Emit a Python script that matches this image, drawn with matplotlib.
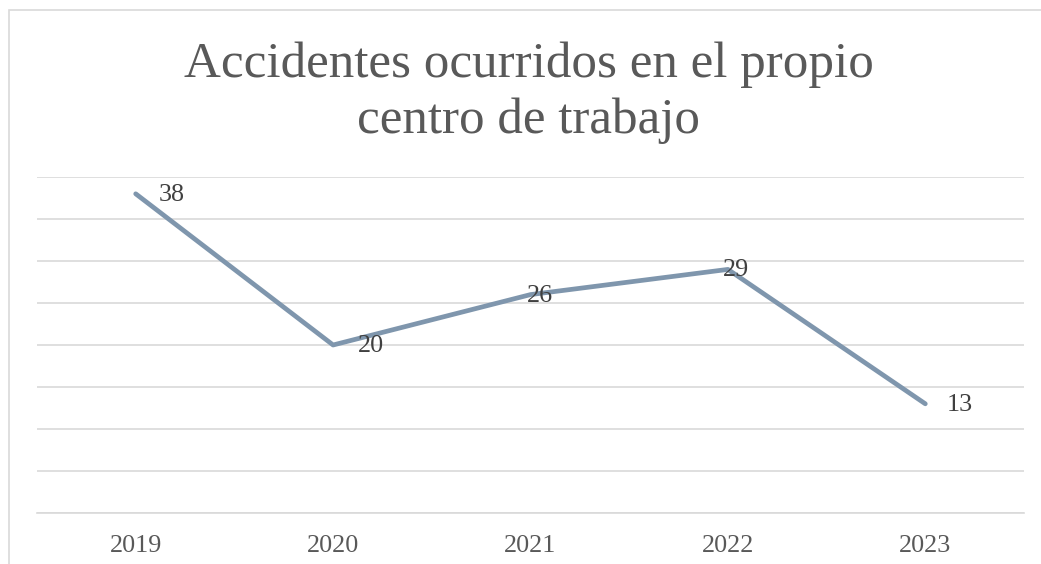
import matplotlib
matplotlib.use("Agg")
import matplotlib.pyplot as plt
from matplotlib.patches import Rectangle

years = ["2019", "2020", "2021", "2022", "2023"]
accidents = [38, 20, 26, 29, 13]
title_lines = ["Accidentes ocurridos en el propio", "centro de trabajo"]

# label x-offsets in pixels (style only)
label_dx = [23, 25, -4, -5, 21]

W, H = 1041, 564
dpi = 100
fig = plt.figure(figsize=(W / dpi, H / dpi), dpi=dpi)
fig.patch.set_facecolor("white")

font = "Liberation Serif"

# chart border (left and top visible)
fig.add_artist(Rectangle((8.5 / W, -0.1), 1.2, (H - 10.5) / H + 0.1,
                         transform=fig.transFigure, fill=False,
                         edgecolor="#d9d9d9", linewidth=1.2))

left, right = 37, 1024
top, bottom = 177, 513
ax = fig.add_axes([left / W, (H - bottom) / H, (right - left) / W, (bottom - top) / H])
ax.set_facecolor("none")

x = list(range(len(years)))
ax.plot(x, accidents, color="#7f96ad", linewidth=3.4, solid_capstyle="round",
        solid_joinstyle="round", zorder=3)

ax.set_xlim(-0.5, len(years) - 0.5)
ax.set_ylim(0, 40)
ax.set_yticks(range(0, 41, 5))
ax.yaxis.grid(True, color="#d9d9d9", linewidth=1.2)
ax.set_axisbelow(True)
ax.tick_params(axis="y", left=False, labelleft=False)
ax.set_xticks(x)
ax.set_xticklabels(years, fontfamily=font, fontsize=18.8, color="#595959")
ax.tick_params(axis="x", length=0, pad=16)
for s in ["top", "right", "left"]:
    ax.spines[s].set_visible(False)
ax.spines["bottom"].set_color("#d9d9d9")
ax.spines["bottom"].set_linewidth(1.2)

for xi, yi, dx in zip(x, accidents, label_dx):
    ax.annotate(str(yi), (xi, yi), xytext=(dx * 72 / dpi, -1 * 72 / dpi),
                textcoords="offset points", ha="left", va="center",
                fontfamily=font, fontsize=18.8, color="#404040")

for line, base in zip(title_lines, [77, 133]):
    fig.text(528.5 / W, (H - base) / H, line, ha="center", va="baseline",
             fontfamily=font, fontsize=36.8, color="#595959")

fig.savefig("out.png", dpi=dpi)
